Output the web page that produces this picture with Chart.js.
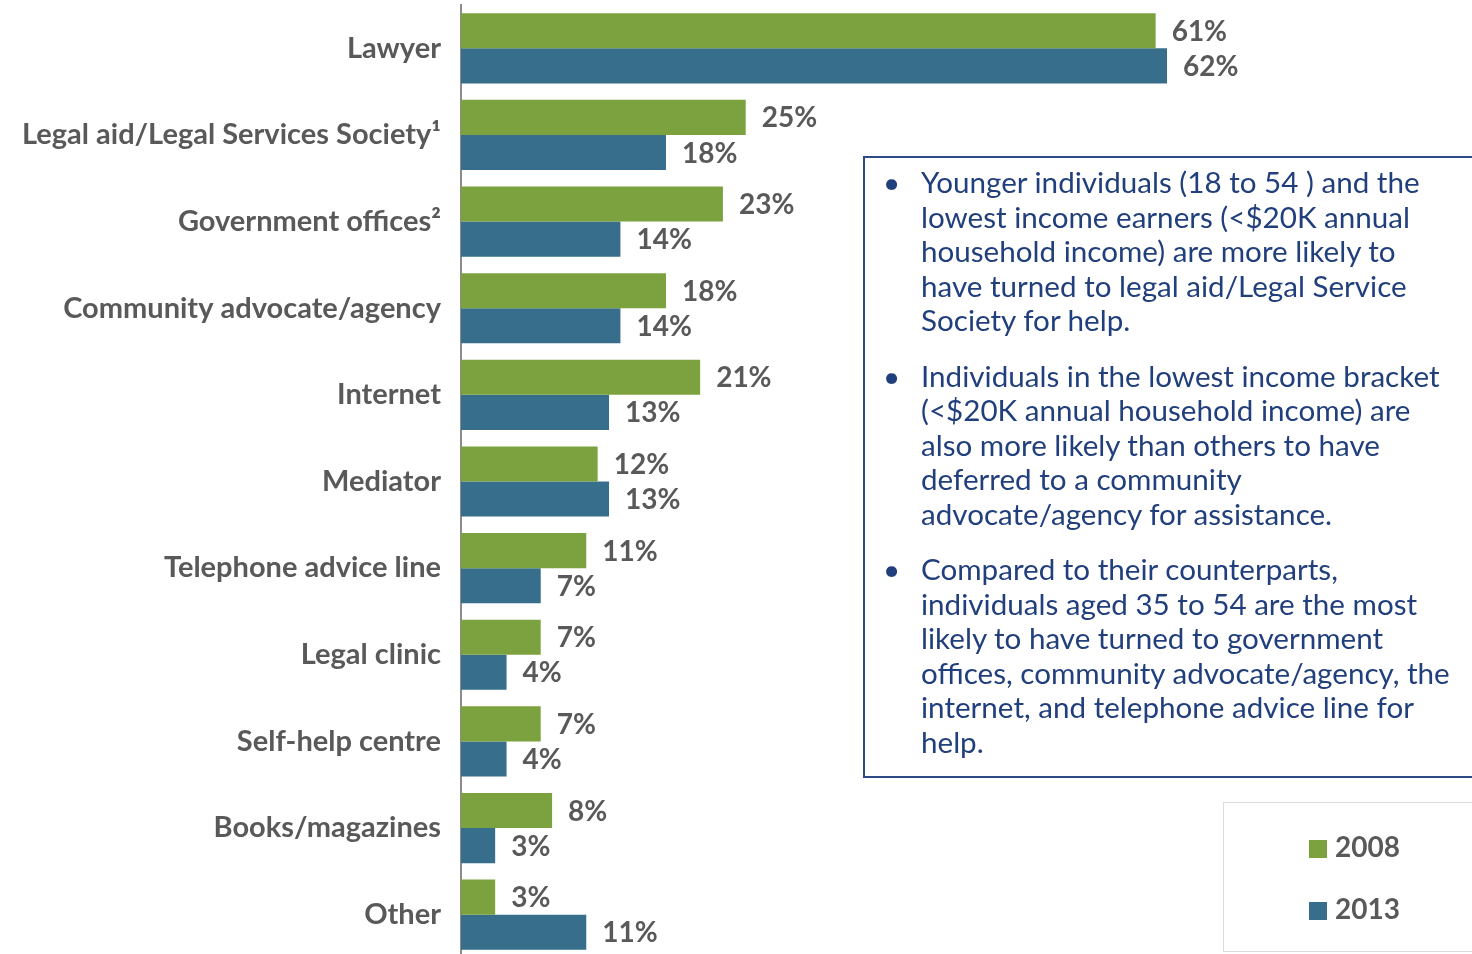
<!DOCTYPE html>
<html>
<head>
<meta charset="utf-8">
<script src="https://cdn.jsdelivr.net/npm/chart.js@4.4.1/dist/chart.umd.min.js"></script>
<style>
  html, body { margin: 0; padding: 0; background: #fff; overflow: hidden; }
  #wrap { position: relative; width: 1472px; height: 960px; }
  #notes {
    position: absolute; left: 863px; top: 156px; width: 640px; height: 622px;
    border: 2px solid #2e4a86; box-sizing: border-box;
    font-family: Lato, "Open Sans", sans-serif; font-size: 29.6px; line-height: 34.5px; color: #203f7c;
  }
  #notes ul { margin: 0; padding: 7px 0 0 56px; list-style: none; }
  #notes li { position: relative; margin-bottom: 21px; }
  #notes li::before { content: "\2022"; position: absolute; left: -38px; top: 0; }
  #legend {
    position: absolute; left: 1223px; top: 802px; width: 260px; height: 150px;
    border: 1.5px solid #dcdcdc; box-sizing: border-box;
    font-family: Lato, sans-serif; font-weight: bold; font-size: 28px; color: #595959;
  }
  .lg { position: absolute; left: 85px; height: 30px; line-height: 30px; }
  .lg span { display: inline-block; width: 18px; height: 18px; margin-right: 8px; vertical-align: -1px; }
</style>
</head>
<body>
<div id="wrap">
  <canvas id="chart" width="1472" height="960"></canvas>
  <div id="notes">
    <ul>
      <li>Younger individuals (18 to 54 ) and the<br>lowest income earners (&lt;$20K annual<br>household income) are more likely to<br>have turned to legal aid/Legal Service<br>Society for help.</li>
      <li>Individuals in the lowest income bracket<br>(&lt;$20K annual household income) are<br>also more likely than others to have<br>deferred to a community<br>advocate/agency for assistance.</li>
      <li>Compared to their counterparts,<br>individuals aged 35 to 54 are the most<br>likely to have turned to government<br>offices, community advocate/agency, the<br>internet, and telephone advice line for<br>help.</li>
    </ul>
  </div>
  <div id="legend"></div>
</div>
<script>
const categories = [
  'Lawyer',
  'Legal aid/Legal Services Society\u00B9',
  'Government offices\u00B2',
  'Community advocate/agency',
  'Internet',
  'Mediator',
  'Telephone advice line',
  'Legal clinic',
  'Self-help centre',
  'Books/magazines',
  'Other'
];
const values2008 = [61, 25, 23, 18, 21, 12, 11, 7, 7, 8, 3];
const values2013 = [62, 18, 14, 14, 13, 13, 7, 4, 4, 3, 11];
const seriesNames = ['2008', '2013'];
const seriesColors = ['#7ba23f', '#366e8b'];

// percent labels at the end of each bar
const barLabels = {
    id: 'barLabels',
    afterDatasetsDraw(chart) {
        const ctx = chart.ctx;
        ctx.save();
        ctx.font = 'bold 28px Lato, sans-serif';
        ctx.fillStyle = '#595959';
        ctx.textBaseline = 'middle';
        ctx.textAlign = 'left';
        chart.data.datasets.forEach((ds, i) => {
            chart.getDatasetMeta(i).data.forEach((bar, j) => {
                ctx.fillText(ds.data[j] + '%', bar.x + 16, bar.y + 1);
            });
        });
        ctx.restore();
    }
};

const chart = new Chart(document.getElementById('chart').getContext('2d'), {
    type: 'bar',
    data: {
        labels: categories,
        datasets: [
            { label: seriesNames[0], data: values2008, backgroundColor: seriesColors[0] },
            { label: seriesNames[1], data: values2013, backgroundColor: seriesColors[1] }
        ]
    },
    options: {
        indexAxis: 'y',
        responsive: false,
        animation: false,
        layout: { padding: { top: 5, bottom: 2, left: 0, right: 100 } },
        datasets: { bar: { categoryPercentage: 0.81, barPercentage: 1.0 } },
        scales: {
            x: { display: false, min: 0, max: 80 },
            y: {
                grid: { display: false, drawTicks: false },
                border: { display: true, color: '#8c8c8c', width: 2 },
                ticks: {
                    padding: 20,
                    color: '#595959',
                    font: { family: 'Lato, sans-serif', weight: 'bold', size: 29 }
                },
                afterFit(scale) {
                    scale.width = 461;
                    // drop the room reserved above/below for the tick labels
                    scale.paddingTop = 0;
                    scale.paddingBottom = 0;
                }
            }
        },
        plugins: { legend: { display: false }, tooltip: { enabled: false } }
    },
    plugins: [barLabels]
});

// legend box built from the datasets
const legendEl = document.getElementById('legend');
chart.data.datasets.forEach((ds, i) => {
    const item = document.createElement('div');
    item.className = 'lg';
    item.style.top = (28 + i * 62) + 'px';
    item.innerHTML = '<span style="background:' + ds.backgroundColor + '"></span>' + ds.label;
    legendEl.appendChild(item);
});
</script>
</body>
</html>
